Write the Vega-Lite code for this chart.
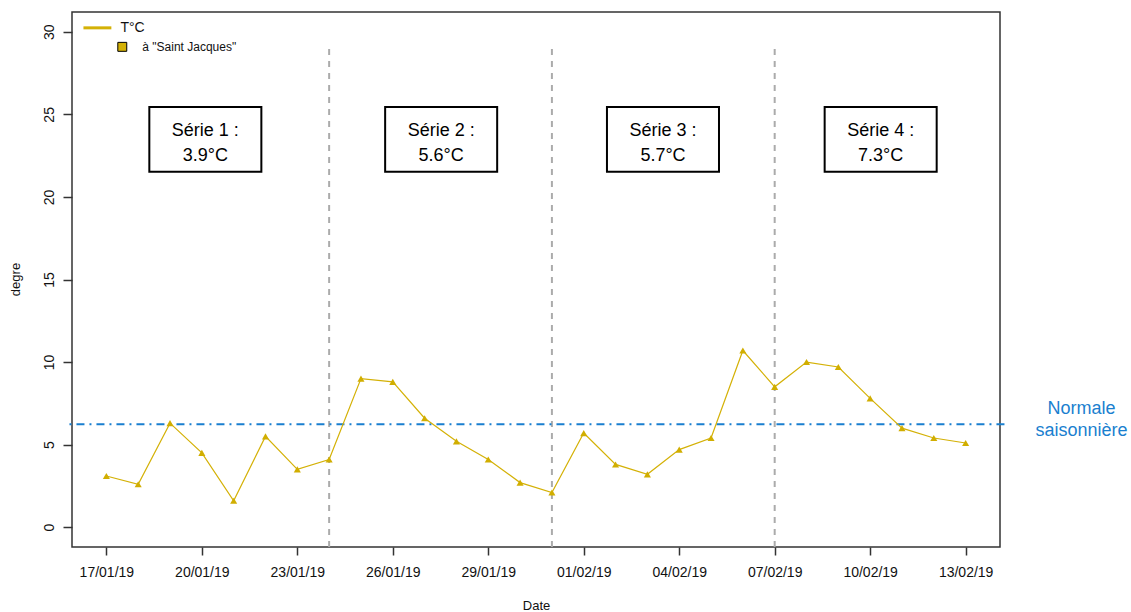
{
  "$schema": "https://vega.github.io/schema/vega-lite/v6.json",
  "width": 928,
  "height": 535,
  "autosize": {"type": "none"},
  "padding": {"left": 72, "top": 12, "right": 131, "bottom": 65},
  "background": "white",
  "config": {
    "font": "Liberation Sans",
    "view": {"stroke": "#333333", "strokeWidth": 1.5},
    "axis": {"grid": false, "domain": false, "tickColor": "#333333", "tickWidth": 1.5, "labelColor": "#111111", "titleColor": "#111111", "titleFontWeight": "normal"}
  },
  "datasets": {
    "temp": [
      {"date": "2019-01-17T00:00", "t": 3.1},
      {"date": "2019-01-18T00:00", "t": 2.6},
      {"date": "2019-01-19T00:00", "t": 6.3},
      {"date": "2019-01-20T00:00", "t": 4.5},
      {"date": "2019-01-21T00:00", "t": 1.6},
      {"date": "2019-01-22T00:00", "t": 5.5},
      {"date": "2019-01-23T00:00", "t": 3.5},
      {"date": "2019-01-24T00:00", "t": 4.1},
      {"date": "2019-01-25T00:00", "t": 9.0},
      {"date": "2019-01-26T00:00", "t": 8.8},
      {"date": "2019-01-27T00:00", "t": 6.6},
      {"date": "2019-01-28T00:00", "t": 5.2},
      {"date": "2019-01-29T00:00", "t": 4.1},
      {"date": "2019-01-30T00:00", "t": 2.7},
      {"date": "2019-01-31T00:00", "t": 2.1},
      {"date": "2019-02-01T00:00", "t": 5.7},
      {"date": "2019-02-02T00:00", "t": 3.8},
      {"date": "2019-02-03T00:00", "t": 3.2},
      {"date": "2019-02-04T00:00", "t": 4.7},
      {"date": "2019-02-05T00:00", "t": 5.4},
      {"date": "2019-02-06T00:00", "t": 10.7},
      {"date": "2019-02-07T00:00", "t": 8.5},
      {"date": "2019-02-08T00:00", "t": 10.0},
      {"date": "2019-02-09T00:00", "t": 9.7},
      {"date": "2019-02-10T00:00", "t": 7.8},
      {"date": "2019-02-11T00:00", "t": 6.0},
      {"date": "2019-02-12T00:00", "t": 5.4},
      {"date": "2019-02-13T00:00", "t": 5.1}
    ],
    "splits": [
      {"date": "2019-01-24T00:00", "lo": -1.2, "hi": 29},
      {"date": "2019-01-31T00:00", "lo": -1.2, "hi": 29},
      {"date": "2019-02-07T00:00", "lo": -1.2, "hi": 29}
    ],
    "series": [
      {"start": "2019-01-18T08:24", "end": "2019-01-21T20:53", "mid": "2019-01-20T02:38", "label": "Série 1 :\n3.9°C"},
      {"start": "2019-01-25T18:14", "end": "2019-01-29T06:43", "mid": "2019-01-27T12:29", "label": "Série 2 :\n5.6°C"},
      {"start": "2019-02-01T17:31", "end": "2019-02-05T06:00", "mid": "2019-02-03T11:46", "label": "Série 3 :\n5.7°C"},
      {"start": "2019-02-08T13:41", "end": "2019-02-12T02:10", "mid": "2019-02-10T07:55", "label": "Série 4 :\n7.3°C"}
    ],
    "normale": [
      {"start": "2019-01-15T20:10", "end": "2019-02-14T08:24", "value": 6.24, "labelAt": "2019-02-16T15:22", "labelY": 7.15, "label": "Normale\nsaisonnière"}
    ]
  },
  "layer": [
    {
      "data": {"name": "splits"},
      "mark": {"type": "rule", "color": "#ababab", "strokeWidth": 2, "strokeDash": [6, 6], "clip": false},
      "encoding": {
        "x": {
          "field": "date", "type": "temporal",
          "scale": {"domain": [{"year": 2019, "month": 1, "date": 15, "hours": 22, "minutes": 5}, {"year": 2019, "month": 2, "date": 14, "hours": 1, "minutes": 55}]},
          "axis": {
            "values": [
              {"year": 2019, "month": 1, "date": 17}, {"year": 2019, "month": 1, "date": 20}, {"year": 2019, "month": 1, "date": 23},
              {"year": 2019, "month": 1, "date": 26}, {"year": 2019, "month": 1, "date": 29}, {"year": 2019, "month": 2, "date": 1},
              {"year": 2019, "month": 2, "date": 4}, {"year": 2019, "month": 2, "date": 7}, {"year": 2019, "month": 2, "date": 10},
              {"year": 2019, "month": 2, "date": 13}
            ],
            "format": "%d/%m/%y",
            "tickSize": 8,
            "labelPadding": 10,
            "labelFontSize": 14,
            "labelFlush": false,
            "labelOverlap": false,
            "title": "Date",
            "titleFontSize": 13,
            "titleX": 464,
            "titleY": 58,
            "titleAlign": "center",
            "titleBaseline": "middle"
          }
        },
        "y": {
          "field": "lo", "type": "quantitative",
          "scale": {"domain": [-1.2, 31.2], "nice": false, "zero": false},
          "axis": {
            "values": [0, 5, 10, 15, 20, 25, 30],
            "tickSize": 9,
            "labelPadding": 10,
            "labelFontSize": 14,
            "labelAngle": -90,
            "labelAlign": "center",
            "labelBaseline": "alphabetic",
            "title": "degre",
            "titleFontSize": 13,
            "titleAngle": -90,
            "titleX": -57,
            "titleY": 267,
            "titleAlign": "center",
            "titleBaseline": "middle"
          }
        },
        "y2": {"field": "hi"}
      }
    },
    {
      "data": {"name": "normale"},
      "mark": {"type": "rule", "color": "#1a7fcf", "strokeWidth": 2, "strokeDash": [2, 5, 8, 5], "clip": false},
      "encoding": {
        "x": {"field": "start", "type": "temporal"},
        "x2": {"field": "end"},
        "y": {"field": "value", "type": "quantitative"}
      }
    },
    {
      "data": {"name": "temp"},
      "mark": {"type": "line", "color": "#d4b106", "strokeWidth": 1.2},
      "encoding": {
        "x": {"field": "date", "type": "temporal"},
        "y": {"field": "t", "type": "quantitative"}
      }
    },
    {
      "data": {"name": "temp"},
      "mark": {"type": "point", "shape": "triangle-up", "filled": true, "size": 50, "color": "#d1ae00", "opacity": 1},
      "encoding": {
        "x": {"field": "date", "type": "temporal"},
        "y": {"field": "t", "type": "quantitative"}
      }
    },
    {
      "data": {"name": "series"},
      "mark": {"type": "rect", "fill": "white", "stroke": "black", "strokeWidth": 2},
      "encoding": {
        "x": {"field": "start", "type": "temporal"},
        "x2": {"field": "end"},
        "y": {"datum": 25.45},
        "y2": {"datum": 21.52}
      }
    },
    {
      "data": {"name": "series"},
      "mark": {"type": "text", "fontSize": 18, "lineHeight": 25, "lineBreak": "\n", "align": "center", "baseline": "middle", "color": "black"},
      "encoding": {
        "x": {"field": "mid", "type": "temporal"},
        "y": {"datum": 24.0},
        "text": {"field": "label"}
      }
    },
    {
      "data": {"name": "normale"},
      "mark": {"type": "text", "fontSize": 18, "lineHeight": 22, "lineBreak": "\n", "align": "center", "baseline": "middle", "color": "#1a7fcf", "clip": false},
      "encoding": {
        "x": {"field": "labelAt", "type": "temporal"},
        "y": {"field": "labelY", "type": "quantitative"},
        "text": {"field": "label"}
      }
    },
    {
      "data": {"values": [{"from": "2019-01-16T06:43", "to": "2019-01-17T03:46", "level": 30.24}]},
      "mark": {"type": "rule", "color": "#d4b106", "strokeWidth": 3},
      "encoding": {
        "x": {"field": "from", "type": "temporal"},
        "x2": {"field": "to"},
        "y": {"field": "level", "type": "quantitative"}
      }
    },
    {
      "data": {"values": [{"at": "2019-01-17T12:00", "level": 29.09}]},
      "mark": {"type": "point", "shape": "square", "filled": true, "size": 80, "fill": "#d4b106", "stroke": "black", "strokeWidth": 1, "opacity": 1},
      "encoding": {
        "x": {"field": "at", "type": "temporal"},
        "y": {"field": "level", "type": "quantitative"}
      }
    },
    {
      "data": {"values": [
        {"at": "2019-01-17T10:34", "level": 30.24, "label": "T°C", "size": 14},
        {"at": "2019-01-18T03:07", "level": 29.09, "label": "à \"Saint Jacques\"", "size": 12}
      ]},
      "mark": {"type": "text", "align": "left", "baseline": "middle", "color": "#111111"},
      "encoding": {
        "x": {"field": "at", "type": "temporal"},
        "y": {"field": "level", "type": "quantitative"},
        "text": {"field": "label"},
        "size": {"field": "size", "type": "quantitative", "scale": null, "legend": null}
      }
    }
  ]
}
